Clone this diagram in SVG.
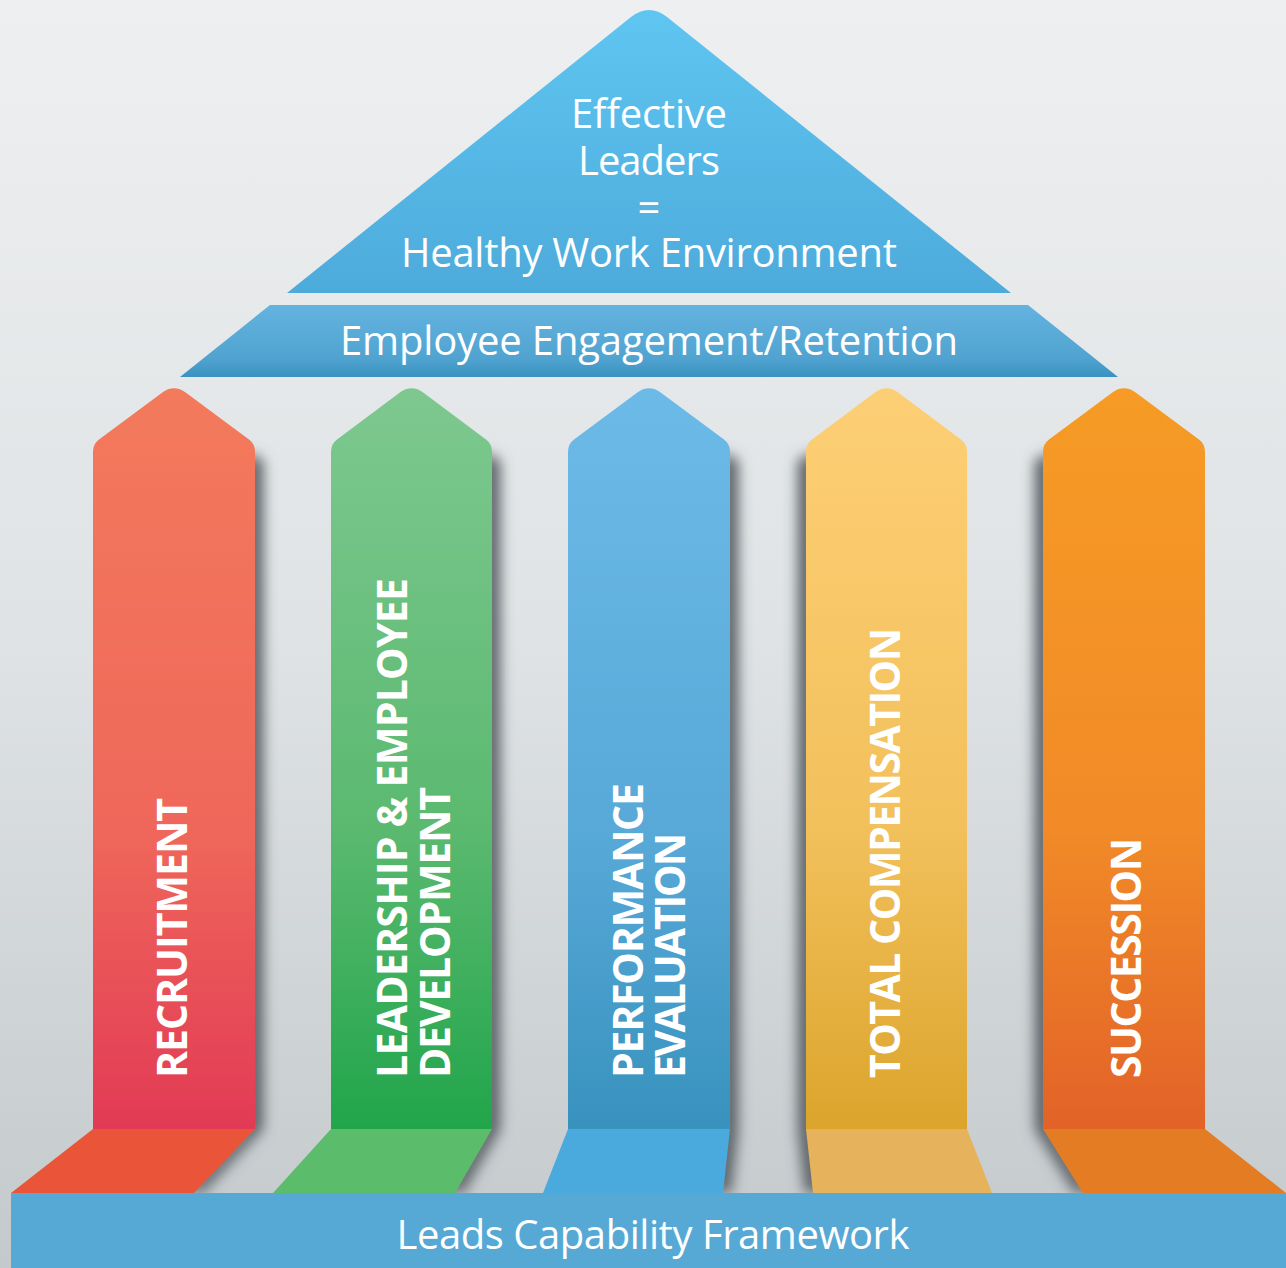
<svg xmlns="http://www.w3.org/2000/svg" width="1286" height="1268" viewBox="0 0 1286 1268">
<style>
.lbl{font-family:"Open Sans","Noto Sans","Liberation Sans",sans-serif;fill:#fff;font-size:40px;text-anchor:middle}
.vl{font-family:"Open Sans","Noto Sans","Liberation Sans",sans-serif;fill:#fff;font-size:41px;font-weight:bold}
.sh{fill:#565d62;filter:url(#blur)}
</style>
<defs>
<linearGradient id="bg" x1="0" y1="0" x2="0" y2="1">
<stop offset="0" stop-color="#eeeff0"/><stop offset="0.5" stop-color="#dfe3e5"/><stop offset="1" stop-color="#c4c9cc"/>
</linearGradient>
<linearGradient id="roofG" gradientUnits="userSpaceOnUse" x1="0" y1="10" x2="0" y2="293">
<stop offset="0" stop-color="#5fc5f1"/><stop offset="1" stop-color="#4dabdb"/>
</linearGradient>
<linearGradient id="bandG" gradientUnits="userSpaceOnUse" x1="0" y1="305" x2="0" y2="377">
<stop offset="0" stop-color="#64b3e0"/><stop offset="0.75" stop-color="#50a3d0"/><stop offset="1" stop-color="#3a91bf"/>
</linearGradient>
<linearGradient id="g1" gradientUnits="userSpaceOnUse" x1="0" y1="388" x2="0" y2="1129">
<stop offset="0" stop-color="#f37a5c"/><stop offset="0.6" stop-color="#ef675a"/><stop offset="1" stop-color="#e23a55"/>
</linearGradient>
<linearGradient id="g2" gradientUnits="userSpaceOnUse" x1="0" y1="388" x2="0" y2="1129">
<stop offset="0" stop-color="#7ec890"/><stop offset="0.6" stop-color="#5ab96f"/><stop offset="1" stop-color="#21a54b"/>
</linearGradient>
<linearGradient id="g3" gradientUnits="userSpaceOnUse" x1="0" y1="388" x2="0" y2="1129">
<stop offset="0" stop-color="#6cbae7"/><stop offset="0.6" stop-color="#58a9d8"/><stop offset="1" stop-color="#3892be"/>
</linearGradient>
<linearGradient id="g4" gradientUnits="userSpaceOnUse" x1="0" y1="388" x2="0" y2="1129">
<stop offset="0" stop-color="#fdcf75"/><stop offset="0.6" stop-color="#f2c05b"/><stop offset="1" stop-color="#dba42b"/>
</linearGradient>
<linearGradient id="g5" gradientUnits="userSpaceOnUse" x1="0" y1="388" x2="0" y2="1129">
<stop offset="0" stop-color="#f69b25"/><stop offset="0.6" stop-color="#f18a27"/><stop offset="1" stop-color="#e26228"/>
</linearGradient>
<filter id="blur" x="-200%" y="-10%" width="500%" height="120%">
<feGaussianBlur stdDeviation="7"/>
</filter>
</defs>

<rect id="background" x="0" y="0" width="1286" height="1268" fill="url(#bg)"/>

<g id="shadows">
<polygon class="sh" points="245,452 263,460 263,1129 202,1193 184,1193 245,1129"/>
<polygon class="sh" points="482,452 500,460 500,1129 463,1193 445,1193 482,1129"/>
<polygon class="sh" points="720,452 738,460 738,1129 731,1193 713,1193 720,1129"/>
<polygon class="sh" points="798,460 816,452 816,1129 823,1193 805,1193 798,1129"/>
<polygon class="sh" points="1035,460 1053,452 1053,1129 1093,1193 1075,1193 1035,1129"/>
</g>

<g id="roof">
<path d="M287,293 L631,17 Q649,3 667,17 L1011,293 Z" fill="url(#roofG)"/>
<text class="lbl" x="649" y="128" textLength="156">Effective</text>
<text class="lbl" x="649" y="175" textLength="142">Leaders</text>
<text class="lbl" x="649" y="222">=</text>
<text class="lbl" x="649" y="267" textLength="496">Healthy Work Environment</text>
</g>

<g id="band">
<polygon points="270,305 1028,305 1118,377 180,377" fill="url(#bandG)"/>
<text class="lbl" x="649" y="355" textLength="618">Employee Engagement/Retention</text>
</g>

<g id="pillar-recruitment">
<path d="M93,1129 L93,452 Q93,444 99,439.6 L162,392.7 Q174,384 186,392.7 L249,439.6 Q255,444 255,452 L255,1129 Z" fill="url(#g1)"/>
<polygon points="93,1129 255,1129 194,1193 11,1193" fill="#ea5539"/>
<text class="vl" transform="translate(187,1078) rotate(-90)" textLength="280">RECRUITMENT</text>
</g>

<g id="pillar-leadership">
<path d="M331,1129 L331,452 Q331,444 337,439.6 L399.5,392.7 Q411.5,384 423.5,392.7 L486,439.6 Q492,444 492,452 L492,1129 Z" fill="url(#g2)"/>
<polygon points="331,1129 492,1129 455,1193 273,1193" fill="#5bbd6b"/>
<text class="vl" transform="translate(407,1078) rotate(-90)" textLength="500">LEADERSHIP &amp; EMPLOYEE</text>
<text class="vl" transform="translate(450,1078) rotate(-90)" textLength="291">DEVELOPMENT</text>
</g>

<g id="pillar-performance">
<path d="M568,1129 L568,452 Q568,444 574,439.6 L637,392.7 Q649,384 661,392.7 L724,439.6 Q730,444 730,452 L730,1129 Z" fill="url(#g3)"/>
<polygon points="568,1129 730,1129 723,1193 543,1193" fill="#4aa9dd"/>
<text class="vl" transform="translate(643,1078) rotate(-90)" textLength="295">PERFORMANCE</text>
<text class="vl" transform="translate(685,1078) rotate(-90)" textLength="245">EVALUATION</text>
</g>

<g id="pillar-compensation">
<path d="M806,1129 L806,452 Q806,444 812,439.6 L874.5,392.7 Q886.5,384 898.5,392.7 L961,439.6 Q967,444 967,452 L967,1129 Z" fill="url(#g4)"/>
<polygon points="806,1129 967,1129 992,1193 813,1193" fill="#e6b35c"/>
<text class="vl" transform="translate(900,1078) rotate(-90)" textLength="450">TOTAL COMPENSATION</text>
</g>

<g id="pillar-succession">
<path d="M1043,1129 L1043,452 Q1043,444 1049,439.6 L1112,392.7 Q1124,384 1136,392.7 L1199,439.6 Q1205,444 1205,452 L1205,1129 Z" fill="url(#g5)"/>
<polygon points="1043,1129 1205,1129 1286,1193 1083,1193" fill="#e47c24"/>
<text class="vl" transform="translate(1141,1078) rotate(-90)" textLength="240">SUCCESSION</text>
</g>

<g id="foundation">
<rect x="11" y="1193" width="1275" height="75" fill="#56a8d5"/>
<text class="lbl" x="653" y="1249" font-size="38" textLength="513">Leads Capability Framework</text>
</g>

<g id="connectors"/>
</svg>
